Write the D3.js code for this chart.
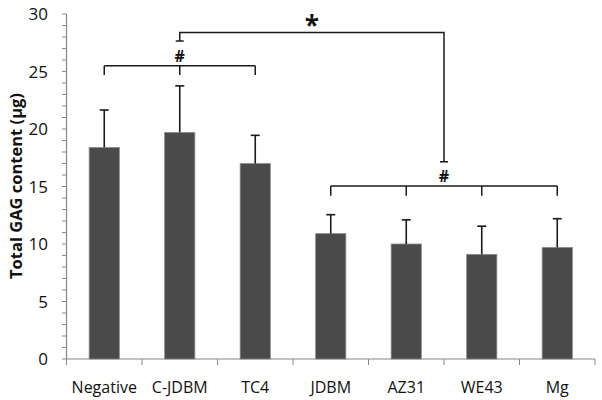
<!DOCTYPE html>
<html><head><meta charset="utf-8">
<script src="https://cdn.jsdelivr.net/npm/d3@7"></script>
<style>body{margin:0;background:#fff}</style>
</head><body>
<svg id="c" width="602" height="400"></svg>
<script>
const categories = ["Negative","C-JDBM","TC4","JDBM","AZ31","WE43","Mg"];
const values = [18.4, 19.7, 17.0, 10.9, 10.0, 9.1, 9.7];
const errors = [3.25, 4.05, 2.45, 1.65, 2.1, 2.45, 2.5];
const yTicks = [0,5,10,15,20,25,30];
const yMinor = d3.range(0,31,1);
const yTitle = "Total GAG content (µg)";
// significance brackets
const hashLeft = {cats:["Negative","C-JDBM","TC4"], y:25.5, leg:24.7, label:"#"};
const hashRight = {cats:["JDBM","AZ31","WE43","Mg"], y:15.05, leg:14.2, label:"#"};
const star = {from:"C-JDBM", fromLeg:27.65, to:["JDBM","Mg"], toLeg:17.15, y:28.4, label:"*"};

const svg = d3.select("#c");
const font = "'Open Sans', sans-serif";
const x = d3.scaleBand().domain(categories).range([66.5,595]).paddingInner(0.6).paddingOuter(0.3);
const y = d3.scaleLinear().domain([0,30]).range([359,14]);
const cx = c => x(c) + x.bandwidth()/2;
const axisCol = "#888";

// y axis
svg.append("line").attr("x1",66.5).attr("x2",66.5).attr("y1",y(30)).attr("y2",y(0)).attr("stroke",axisCol).attr("stroke-width",1.2);
svg.selectAll(".ymin").data(yMinor).join("line").attr("x1",62).attr("x2",66.5).attr("y1",d=>y(d)).attr("y2",d=>y(d)).attr("stroke",axisCol).attr("stroke-width",1);
svg.selectAll(".ylab").data(yTicks).join("text").attr("x",48).attr("y",d=>y(d)).attr("dy","0.36em")
  .attr("text-anchor","end").attr("font-family",font).attr("font-size",17).attr("fill","#111").text(d=>d);

// x axis
const bounds = categories.map(c => x(c) - x.step()*x.paddingInner()/2).concat([595]);
svg.append("line").attr("x1",66.5).attr("x2",595).attr("y1",y(0)).attr("y2",y(0)).attr("stroke",axisCol).attr("stroke-width",1.2);
svg.selectAll(".xt").data(bounds).join("line").attr("x1",d=>d).attr("x2",d=>d).attr("y1",y(0)).attr("y2",y(0)+6).attr("stroke",axisCol).attr("stroke-width",1);
svg.selectAll(".xlab").data(categories).join("text").attr("x",d=>cx(d)).attr("y",393)
  .attr("text-anchor","middle").attr("font-family",font).attr("font-size",16).attr("fill","#111").text(d=>d);

// bars
svg.selectAll(".bar").data(categories).join("rect").attr("x",d=>x(d)).attr("width",x.bandwidth())
  .attr("y",(d,i)=>y(values[i])).attr("height",(d,i)=>y(0)-y(values[i]))
  .attr("fill","#4a4a4a").attr("stroke","#8a8a8a").attr("stroke-width",0.8);

// error bars
const eb = svg.append("g").attr("stroke","#1a1a1a").attr("stroke-width",1.6);
categories.forEach((c,i)=>{
  eb.append("line").attr("x1",cx(c)).attr("x2",cx(c)).attr("y1",y(values[i])).attr("y2",y(values[i]+errors[i]));
  eb.append("line").attr("x1",cx(c)-4.5).attr("x2",cx(c)+4.5).attr("y1",y(values[i]+errors[i])).attr("y2",y(values[i]+errors[i]));
});

// brackets
const br = svg.append("g").attr("stroke","#1a1a1a").attr("stroke-width",1.5).attr("fill","none");
function groupBracket(b){
  const xs = b.cats.map(cx);
  br.append("line").attr("x1",xs[0]).attr("x2",xs[xs.length-1]).attr("y1",y(b.y)).attr("y2",y(b.y));
  xs.forEach(xx=>br.append("line").attr("x1",xx).attr("x2",xx).attr("y1",y(b.y)).attr("y2",y(b.leg)));
  svg.append("text").attr("x",(xs[0]+xs[xs.length-1])/2).attr("y",y(b.y)-4).attr("text-anchor","middle")
    .attr("font-family",font).attr("font-weight","bold").attr("font-size",16).attr("fill","#111").text(b.label);
}
groupBracket(hashLeft);
groupBracket(hashRight);
const sx1 = cx(star.from), sx2 = (cx(star.to[0])+cx(star.to[1]))/2;
br.append("path").attr("d",`M${sx1},${y(star.fromLeg)}V${y(star.y)}H${sx2}V${y(star.toLeg)}`);
br.append("line").attr("x1",sx1-4).attr("x2",sx1+4).attr("y1",y(star.fromLeg)).attr("y2",y(star.fromLeg));
br.append("line").attr("x1",sx2-4).attr("x2",sx2+4).attr("y1",y(star.toLeg)).attr("y2",y(star.toLeg));
svg.append("text").attr("x",(sx1+sx2)/2).attr("y",y(star.y)+3).attr("text-anchor","middle")
  .attr("font-family",font).attr("font-weight","bold").attr("font-size",26).attr("fill","#111").text(star.label);

// y title
svg.append("text").attr("transform",`translate(22,186) rotate(-90)`).attr("text-anchor","middle")
  .attr("font-family",font).attr("font-weight","bold").attr("font-size",16.5).attr("fill","#111").text(yTitle);
</script>
</body></html>
